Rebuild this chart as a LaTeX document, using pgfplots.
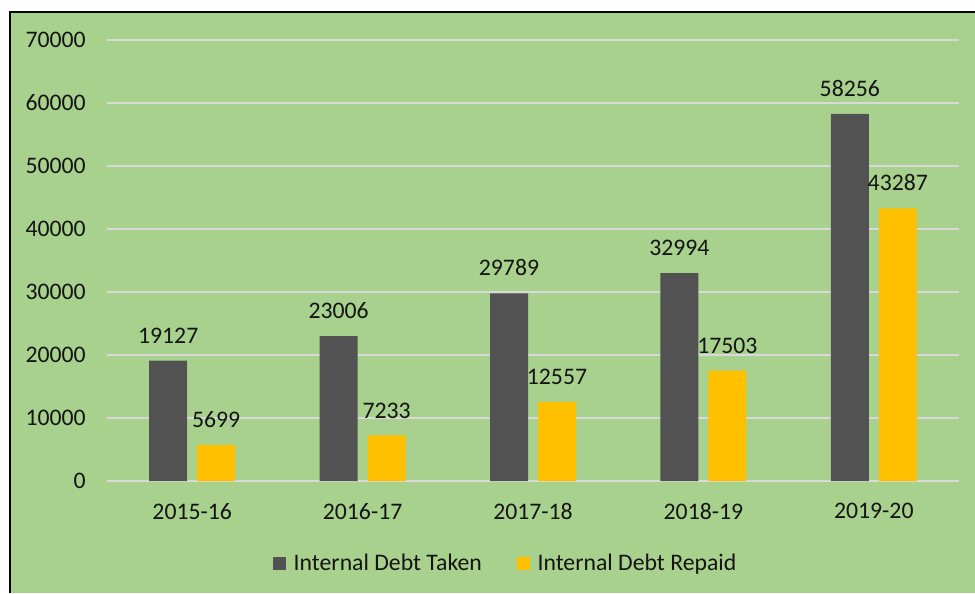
\documentclass[border=0pt]{standalone}
\usepackage{fontspec}
\setmainfont{Carlito}
\usepackage{pgfplots}
\pgfplotsset{compat=1.18}
\definecolor{bg}{HTML}{A9D18E}
\definecolor{taken}{HTML}{525252}
\definecolor{repaid}{HTML}{FFC000}
\definecolor{gridc}{HTML}{D9D9D9}
\definecolor{txt}{HTML}{141414}
\newcommand\chartfont{\fontsize{17.8}{21.4}\selectfont}

\begin{document}
\begin{tikzpicture}
\useasboundingbox (0,0) rectangle (731.25pt,444.75pt);
\fill[white] (0,0) rectangle (731.25pt,444.75pt);
\fill[bg] (7.5pt,0) rectangle (731.25pt,435.75pt);
\draw[black, line width=1.5pt] (7.5pt,0) -- (7.5pt,435.75pt) -- (731.25pt,435.75pt);
\begin{axis}[
    at={(80.25pt,84pt)}, anchor=south west,
    scale only axis, width=639pt, height=330.75pt,
    ybar=7.5pt, bar width=28.5pt,
    xmin=-0.5, xmax=4.5, ymin=0, ymax=70000,
    xtick={0,1,2,3,4},
    xticklabels={2015-16,2016-17,2017-18,2018-19,2019-20},
    ytick={0,10000,...,70000},
    axis line style={draw=none},
    major tick length=0pt,
    ymajorgrids, grid style={gridc, line width=1.5pt},
    /pgf/number format/assume math mode=true,
    /pgf/number format/1000 sep={},
    scaled y ticks=false,
    yticklabel style={font=\chartfont, text=txt, anchor=east, inner sep=0pt, xshift=-15.75pt},
    xticklabel style={font=\chartfont, text=txt, anchor=north, inner sep=0pt, yshift=-16.5pt},
    nodes near coords,
    every node near coord/.append style={font=\chartfont, text=txt, anchor=south, inner sep=0pt, yshift=12.75pt},
    legend columns=2,
    legend style={draw=none, fill=none, font=\chartfont, text=txt,
      at={(0.195,-0.186)}, anchor=west, inner sep=0pt,
      /tikz/every even column/.append style={column sep=24.5pt},
      /tikz/every odd column/.append style={column sep=3.5pt}},
    legend image code/.code={\fill[#1] (0pt,-4.875pt) rectangle (9.75pt,4.875pt);},
]
\addplot[fill=taken, draw=none] coordinates {(0,19127) (1,23006) (2,29789) (3,32994) (4,58256)};
\addlegendentry{Internal Debt Taken}
\addplot[fill=repaid, draw=none] coordinates {(0,5699) (1,7233) (2,12557) (3,17503) (4,43287)};
\addlegendentry{Internal Debt Repaid}
\end{axis}
\end{tikzpicture}
\end{document}
